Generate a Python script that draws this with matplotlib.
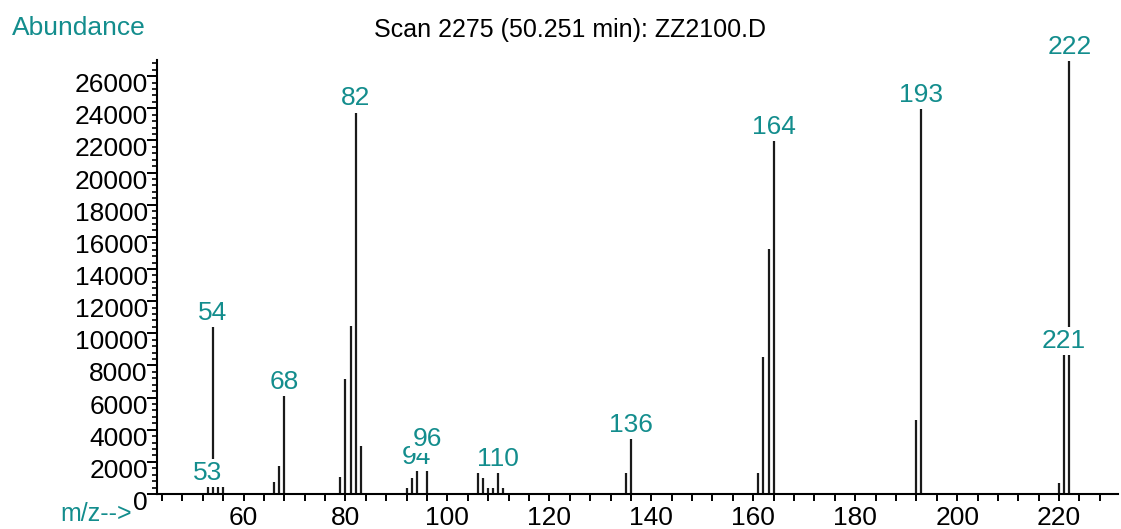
import matplotlib

matplotlib.use("Agg")
import matplotlib.pyplot as plt
import matplotlib.transforms as mtransforms
from matplotlib.ticker import MultipleLocator

# peak list (m/z, abundance)
mz = [53, 54, 55, 56, 66, 67, 68, 79, 80, 81, 82, 83, 92, 93, 94, 96,
      106, 107, 108, 109, 110, 111, 135, 136, 161, 162, 163, 164,
      192, 193, 220, 221, 222]
abundance = [450, 10400, 600, 600, 730, 1760, 6100, 1040, 7150, 10450, 23740, 2990,
             390, 1010, 1450, 1600, 1450, 1010, 390, 390, 1320, 390, 1320, 3400,
             1320, 8500, 15220, 21960, 4600, 23950, 700, 8650, 26950]
labelled = [53, 54, 68, 82, 94, 96, 110, 136, 164, 193, 221, 222]
label_lift = {96: 15}  # ChemStation bumps overlapping labels upwards

y_ticks = list(range(0, 26001, 2000))
x_ticks = list(range(60, 221, 20))

title = "Scan 2275 (50.251 min): ZZ2100.D"
TEAL = "#138d8d"
FS = 19

plt.rcParams["font.family"] = ["Liberation Sans", "DejaVu Sans"]

W, H = 1121, 529
fig = plt.figure(figsize=(W / 100, H / 100), dpi=100)
ax = fig.add_axes([157 / W, 35 / H, (1118 - 157) / W, 434 / H])

ax.vlines(mz, 0, abundance, color="#1a1a1a", linewidth=1.6, zorder=2)

peaks = dict(zip(mz, abundance))
for m in labelled:
    ax.annotate(str(m), xy=(m, peaks[m]), xytext=(0, 2 + label_lift.get(m, 0)),
                textcoords="offset pixels", ha="center", va="bottom",
                color=TEAL, fontsize=FS, zorder=5,
                bbox=dict(facecolor="white", edgecolor="none", pad=1.5))

ax.set_xlim(43.02, 231.56)
ax.set_ylim(0, 27000)

for s in ("top", "right"):
    ax.spines[s].set_visible(False)
for s in ("left", "bottom"):
    ax.spines[s].set_linewidth(1.5)

ax.set_xticks(x_ticks)
ax.xaxis.set_minor_locator(MultipleLocator(4))
ax.tick_params(axis="x", which="both", direction="out", length=5, width=1.4,
               pad=3.5, labelsize=FS)

ax.set_yticks(y_ticks)
ax.set_yticklabels([])
ax.yaxis.set_minor_locator(MultipleLocator(400))
ax.tick_params(axis="y", which="major", direction="out", length=7, width=1.4)
ax.tick_params(axis="y", which="minor", direction="out", length=3.5, width=1.2)

# y labels sit with their top at the tick, like the original
ytrans = mtransforms.offset_copy(
    mtransforms.blended_transform_factory(ax.transAxes, ax.transData),
    fig=fig, x=0, y=3, units="dots")
for v in y_ticks:
    ax.text(-0.0095, v, str(v), transform=ytrans, ha="right", va="top",
            fontsize=FS, color="black", clip_on=False)

fig.text(12 / W, 1 - 28 / H, "Abundance", color=TEAL, fontsize=FS,
         ha="left", va="center")
fig.text(570 / W, 1 - 30 / H, title, color="black", fontsize=FS - 1,
         ha="center", va="center")
fig.text(60 / W, 1 - 514 / H, "m/z-->", color=TEAL, fontsize=FS - 1,
         ha="left", va="center")

fig.savefig("out.png", dpi=100)
